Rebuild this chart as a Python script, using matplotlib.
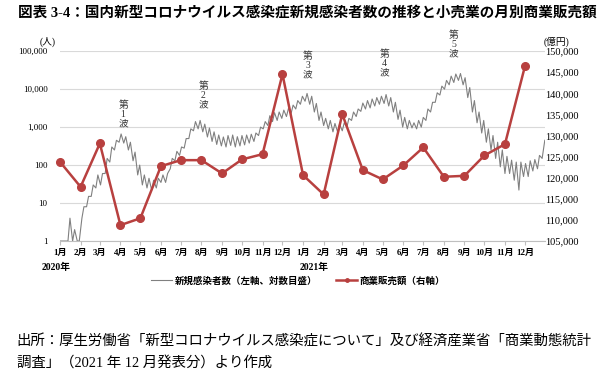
import numpy as np
import pandas as pd
import matplotlib
matplotlib.use("Agg")
import matplotlib.pyplot as plt
from matplotlib.lines import Line2D

plt.rcParams['font.family'] = ['Liberation Serif', 'Noto Sans CJK JP']

# ==================================================
# Data
# ==================================================
months = pd.date_range("2020-01-01", "2021-12-01", freq="MS")
month_labels = [f"{m.month}月" for m in months]

# monthly retail sales (億円)
sales = [123770, 117840, 128130, 108770, 110400, 122750,
         124170, 124170, 121020, 124340, 125590, 144550,
         120620, 116040, 135070, 121800, 119600, 122920,
         127180, 120230, 120460, 125280, 127960, 146370]

# new cases, read per week: Monday low and mid-week high
week_start = pd.date_range("2020-01-06", periods=104, freq="7D")
case_high = [1, 4, 2, 1, 8, 15, 30, 55, 60, 150,
             300, 450, 660, 560, 400, 220, 100, 55, 45, 40,
             45, 55, 60, 150, 230, 300, 500, 900, 1400, 1500,
             1200, 950, 750, 620, 550, 600, 620, 560, 600, 620,
             650, 700, 1000, 1400, 2000, 2400, 2500, 2800, 3100, 3800,
             5000, 6500, 7700, 6500, 4200, 2500, 1700, 1500, 1250, 1200,
             1300, 1700, 2500, 3000, 4300, 5000, 5500, 6000, 6500, 7200,
             6000, 4500, 2800, 1800, 1500, 1300, 1500, 1800, 3000, 4500,
             8000, 12000, 17000, 22000, 25000, 25800, 20000, 11000, 5000, 2500,
             1500, 900, 600, 400, 250, 170, 135, 120, 120, 110,
             130, 140, 180, 350]
case_low = [1, 1, 1, 1, 4, 8, 15, 25, 30, 60,
            120, 250, 400, 380, 250, 130, 55, 30, 25, 22,
            25, 35, 35, 80, 130, 180, 280, 500, 800, 900,
            750, 550, 420, 350, 320, 300, 330, 300, 320, 340,
            380, 420, 600, 900, 1100, 1400, 1500, 1700, 1900, 2300,
            3000, 4000, 4800, 4000, 2500, 1500, 1100, 900, 750, 750,
            800, 1000, 1500, 1900, 2600, 3000, 3200, 3600, 4000, 4200,
            3600, 2500, 1600, 1000, 900, 950, 900, 1000, 1500, 2500,
            4500, 7000, 10000, 13000, 15000, 17000, 13000, 6000, 2500, 1300,
            700, 400, 250, 150, 90, 60, 60, 40, 22, 50,
            50, 70, 80, 150]
case_first = 1
case_last = 450

waves = ["1", "2", "3", "4", "5"]
wave_dates = ["2020-04-05", "2020-08-04", "2021-01-08", "2021-05-04", "2021-08-16"]
wave_levels = [2200, 7000, 43000, 48000, 150000]

# ==================================================
# Build daily line
# ==================================================
case_dates = [pd.Timestamp("2020-01-01")]
case_vals = [case_first]
for d, lo, hi in zip(week_start, case_low, case_high):
    case_dates += [d, d + pd.Timedelta(days=3)]
    case_vals += [lo, hi]
case_dates.append(pd.Timestamp("2021-12-31"))
case_vals.append(case_last)

# ==================================================
# Figure
# ==================================================
fig = plt.figure(figsize=(6.0, 3.79), dpi=100)
ax = fig.add_axes([0.1, 0.364, 0.808, 0.501])
ax2 = ax.twinx()

ax.plot(case_dates, case_vals, color="#808080", lw=0.8)
ax2.plot(months, sales, color="#b8403f", lw=1.8, marker="o", ms=5.5,
         markeredgecolor="#b8403f", clip_on=False, zorder=3)

ax.set_yscale("log")
ax.set_ylim(1, 100000)
ax.set_yticks([1, 10, 100, 1000, 10000, 100000])
ax.set_yticklabels(["1", "10", "100", "1,000", "10,000", "100,000"])
ax.yaxis.set_minor_locator(matplotlib.ticker.NullLocator())
ax.grid(axis="y", color="#d9d9d9", lw=0.8)
ax.tick_params(axis="y", length=0, labelsize=6.5, pad=9)

ax2.set_ylim(105000, 150000)
ax2.set_yticks(np.arange(105000, 150001, 5000))
ax2.set_yticklabels([f"{v:,}" for v in range(105000, 150001, 5000)])
ax2.tick_params(axis="y", length=0, labelsize=7.5, pad=0)

ax.set_xlim(pd.Timestamp("2020-01-01"), pd.Timestamp("2021-12-31"))
ax.set_xticks(months)
ax.set_xticklabels(month_labels, fontsize=6.5, fontweight="bold")
ax.tick_params(axis="x", length=3, color="#bfbfbf", pad=3)

for a in (ax, ax2):
    for s in ("left", "right", "top"):
        a.spines[s].set_visible(False)
ax.spines["bottom"].set_color("#bfbfbf")
ax2.spines["bottom"].set_visible(False)

# year labels
for yr, dt, dx in [("2020年", "2020-01-01", -3), ("2021年", "2021-01-01", 8)]:
    ax.annotate(yr, xy=(pd.Timestamp(dt), 0), xycoords=("data", "axes fraction"),
                xytext=(dx, -19), textcoords="offset points", ha="center",
                va="center", fontsize=7, fontweight="bold")

# wave labels
for w, d, lv in zip(waves, wave_dates, wave_levels):
    ax.text(pd.Timestamp(d), lv, f"第\n{w}\n波", ha="center", va="center",
            fontsize=7, linespacing=1.05, color="#333333", clip_on=False)

# axis unit labels
fig.text(0.08, 1 - 42 / 379, "(人)", ha="center", va="center", fontsize=7)
fig.text(0.928, 1 - 42 / 379, "(億円)", ha="center", va="center", fontsize=7)

# legend
handles = [
    Line2D([], [], color="#808080", lw=0.8),
    Line2D([], [], color="#b8403f", lw=1.8, marker="o", ms=2.5),
]
leg = fig.legend(handles, ["新規感染者数（左軸、対数目盛）", "商業販売額（右軸）"],
                 loc="center", bbox_to_anchor=(0.497, 1 - 281 / 379), ncol=2,
                 frameon=False, fontsize=6.8, handlelength=2.2,
                 columnspacing=2.0, handletextpad=0.3)
for t in leg.get_texts():
    t.set_fontweight("bold")

# title
fig.text(0.03, 1 - 13 / 379,
         "図表 3-4：国内新型コロナウイルス感染症新規感染者数の推移と小売業の月別商業販売額",
         ha="left", va="center", fontsize=10.5, fontweight="bold")

# source
fig.text(0.028, 1 - 341 / 379,
         "出所：厚生労働省「新型コロナウイルス感染症について」及び経済産業省「商業動態統計",
         ha="left", va="center", fontsize=10.4)
fig.text(0.028, 1 - 363 / 379,
         "調査」（2021 年 12 月発表分）より作成",
         ha="left", va="center", fontsize=10.4)

fig.savefig("out.png", dpi=100)
